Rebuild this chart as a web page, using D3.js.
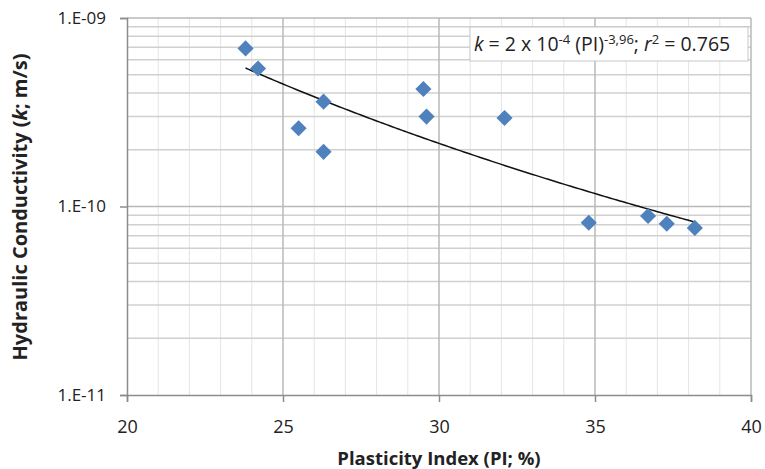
<!DOCTYPE html>
<html>
<head>
<meta charset="utf-8">
<script src="https://cdnjs.cloudflare.com/ajax/libs/d3/7.8.5/d3.min.js"></script>
<style>
body { margin: 0; background: #fff; font-family: "Open Sans", sans-serif; }
</style>
</head>
<body>
<svg width="765" height="469"></svg>
<script>
// plasticity index (%) and hydraulic conductivity (m/s)
var pi = [23.8, 24.2, 26.3, 25.5, 26.3, 29.5, 29.6, 32.1, 34.8, 36.7, 37.3, 38.2];
var k  = [6.9e-10, 5.4e-10, 3.6e-10, 2.6e-10, 1.95e-10, 4.2e-10, 3.0e-10, 2.95e-10,
          8.2e-11, 8.9e-11, 8.1e-11, 7.7e-11];
var xTicks = [20, 25, 30, 35, 40];
var yTicks = [1e-11, 1e-10, 1e-9];

var svg = d3.select("svg");
var mLeft = 127, mRight = 751, mTop = 18, mBottom = 395;

var x = d3.scaleLinear().domain([20, 40]).range([mLeft, mRight]);
var y = d3.scaleLog().domain([1e-11, 1e-9]).range([mBottom, mTop]);

// minor gridlines
var minorX = d3.range(21, 40).filter(function(d) { return d % 5 != 0; });
svg.selectAll(".vminor").data(minorX).enter().append("line")
  .attr("x1", x).attr("x2", x).attr("y1", mTop).attr("y2", mBottom)
  .attr("stroke", "#e4e4e4").attr("stroke-width", 1);

var minorY = [];
[1e-11, 1e-10].forEach(function(b) {
  for (var i = 2; i < 10; i++) minorY.push(b * i);
});
svg.selectAll(".hminor").data(minorY).enter().append("line")
  .attr("x1", mLeft).attr("x2", mRight)
  .attr("y1", y).attr("y2", y)
  .attr("stroke", "#d0d0d0").attr("stroke-width", 1.5);

// major gridlines
svg.selectAll(".vmajor").data(xTicks.slice(1)).enter().append("line")
  .attr("x1", x).attr("x2", x).attr("y1", mTop).attr("y2", mBottom)
  .attr("stroke", "#b8b8b8").attr("stroke-width", 1.5);
svg.selectAll(".hmajor").data(yTicks.slice(1)).enter().append("line")
  .attr("x1", mLeft).attr("x2", mRight)
  .attr("y1", y).attr("y2", y)
  .attr("stroke", "#b8b8b8").attr("stroke-width", 1.5);

// axes
var gx = svg.append("g")
  .attr("transform", "translate(0," + mBottom + ")")
  .call(d3.axisBottom(x).tickValues(xTicks).tickSize(7).tickPadding(18));
var gy = svg.append("g")
  .attr("transform", "translate(" + mLeft + ",0)")
  .call(d3.axisLeft(y).tickValues(yTicks).tickSize(7).tickPadding(14)
    .tickFormat(function(d) { return "1.E-" + d3.format("02d")(-Math.round(Math.log10(d))); }));
svg.selectAll(".domain").attr("stroke", "#8c8c8c").attr("stroke-width", 1.5);
svg.selectAll(".tick line").attr("stroke", "#8c8c8c").attr("stroke-width", 1.5);
svg.selectAll(".tick text")
  .attr("font-family", "Open Sans, sans-serif").attr("fill", "#222");
gx.selectAll(".tick text").attr("font-size", 18);
gy.selectAll(".tick text").attr("font-size", 17);

// power trendline fitted on log-log values
var lx = pi.map(Math.log), ly = k.map(Math.log);
var mx = d3.mean(lx), my = d3.mean(ly);
var b = d3.sum(lx, function(d, i) { return (d - mx) * (ly[i] - my); }) /
        d3.sum(lx, function(d) { return (d - mx) * (d - mx); });
var a = Math.exp(my - b * mx);
var xs = d3.range(d3.min(pi), d3.max(pi) + 0.001, 0.1);
svg.append("path")
  .datum(xs)
  .attr("fill", "none").attr("stroke", "#111").attr("stroke-width", 1.5)
  .attr("d", d3.line().x(function(d) { return x(d); })
                      .y(function(d) { return y(a * Math.pow(d, b)); }));

// points
svg.selectAll(".pt").data(pi).enter().append("path")
  .attr("d", d3.symbol(d3.symbolSquare).size(130))
  .attr("transform", function(d, i) {
    return "translate(" + x(d) + "," + y(k[i]) + ") rotate(45)";
  })
  .attr("fill", "#4f81bd");

// equation box
svg.append("rect")
  .attr("x", 470).attr("y", 27).attr("width", 278).attr("height", 34)
  .attr("fill", "#fff").attr("stroke", "#c8c8c8").attr("stroke-width", 1);
var eq = svg.append("text")
  .attr("x", 474).attr("y", 51)
  .style("font-size", "19.5px").attr("fill", "#222");
eq.append("tspan").style("font-style", "italic").text("k");
eq.append("tspan").text(" = 2 x 10");
eq.append("tspan").attr("dy", -7).style("font-size", "13px").text("-4");
eq.append("tspan").attr("dy", 7).text(" (PI)");
eq.append("tspan").attr("dy", -7).style("font-size", "13px").text("-3,96");
eq.append("tspan").attr("dy", 7).text("; ");
eq.append("tspan").style("font-style", "italic").text("r");
eq.append("tspan").attr("dy", -7).style("font-size", "13px").text("2");
eq.append("tspan").attr("dy", 7).text(" = 0.765");

// axis titles
svg.append("text")
  .attr("x", 439).attr("y", 465)
  .attr("text-anchor", "middle")
  .style("font-size", "18.5px").style("font-weight", "bold").attr("fill", "#222")
  .text("Plasticity Index (PI; %)");

var yt = svg.append("text")
  .attr("transform", "translate(27,207) rotate(-90)")
  .attr("text-anchor", "middle")
  .style("font-size", "20px").style("font-weight", "bold").attr("fill", "#222");
yt.append("tspan").text("Hydraulic Conductivity (");
yt.append("tspan").style("font-style", "italic").text("k");
yt.append("tspan").text("; m/s)");
</script>
</body>
</html>
